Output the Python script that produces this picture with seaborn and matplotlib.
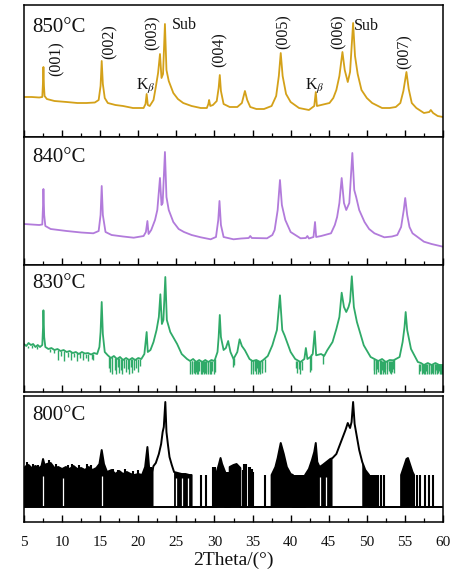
import numpy as np
import pandas as pd
import matplotlib
matplotlib.use("Agg")
import matplotlib.pyplot as plt
import seaborn as sns
from matplotlib.ticker import MultipleLocator

# ---------------- data (2Theta in degrees, intensity in arbitrary units) ----------------
x850 = [5.0, 6.0, 7.0, 7.4, 7.5, 7.55, 7.62, 7.7, 8.0, 9.0, 10.6, 12.0, 13.2, 14.3, 14.8, 15.05, 15.2, 15.35,
        15.6, 16.0, 17.0, 18.0, 19.3, 20.7, 20.95, 21.1, 21.25, 21.5, 22.0, 22.3, 22.6, 22.85, 23.05, 23.25,
        23.5, 23.7, 24.0, 24.6, 25.2, 25.9, 27.0, 28.2, 29.0, 29.2, 29.3, 29.45, 29.8, 30.3, 30.55, 30.7,
        30.85, 31.2, 32.0, 33.0, 33.6, 34.0, 34.3, 34.7, 35.5, 36.5, 37.5, 38.1, 38.45, 38.7, 38.95, 39.4,
        40.0, 41.1, 42.4, 43.1, 43.3, 43.45, 44.0, 45.1, 45.6, 46.0, 46.4, 46.8, 47.1, 47.5, 47.8, 48.2,
        48.45, 48.8, 49.3, 50.0, 50.7, 52.0, 53.0, 53.8, 54.4, 54.8, 55.2, 55.5, 55.9, 56.5, 57.5, 58.2,
        58.4, 58.7, 59.3, 60.0]
y850 = [39, 39, 38.5, 39, 55, 69, 50, 40, 37, 35, 34, 33, 33, 33.5, 36, 50, 75, 52,
        38, 33, 31, 30, 28, 28, 32, 42, 31, 30, 36, 49, 63, 82, 58, 62,
        112, 66, 55, 43, 37, 33, 30, 28, 28, 32, 36, 30, 31, 35, 48, 61,
        45, 32, 29, 29, 33, 45, 36, 29, 27, 27, 30, 40, 60, 83, 60, 42,
        34, 28, 26, 30, 44, 30, 31, 33, 38, 46, 60, 84, 66, 54, 64, 113,
        80, 62, 46, 38, 33, 28, 28, 29, 33, 45, 64, 47, 33, 28, 23, 24,
        26, 23, 20, 19]

x840 = [5.0, 7.0, 7.4, 7.5, 7.55, 7.65, 7.8, 8.5, 10.6, 12.5, 14.1, 14.8, 15.05, 15.2, 15.35, 15.7, 16.5,
        18.0, 19.4, 20.7, 21.0, 21.2, 21.35, 21.7, 22.2, 22.5, 22.85, 23.05, 23.2, 23.5, 23.7, 24.0, 24.6,
        25.3, 26.0, 27.0, 28.2, 29.5, 30.2, 30.5, 30.66, 30.85, 31.2, 32.5, 33.5, 34.5, 34.7, 34.9, 36.9,
        37.6, 37.9, 38.3, 38.6, 38.85, 39.3, 40.0, 41.3, 42.0, 42.2, 42.4, 43.0, 43.2, 43.35, 44.0, 45.3,
        45.8, 46.1, 46.4, 46.7, 47.0, 47.3, 47.7, 48.1, 48.35, 48.6, 49.0, 49.7, 50.3, 51.0, 52.3, 53.3,
        54.0, 54.5, 54.85, 55.04, 55.3, 55.6, 56.0, 57.5, 58.5, 60.0]
y840 = [41, 40, 40.5, 60, 76, 50, 39, 36, 34, 32.5, 31.7, 34, 50, 79, 50, 33, 30,
        28.5, 27.3, 29, 33, 44, 31, 35, 45, 55, 87, 60, 62, 113, 68, 55, 43,
        36, 33, 30, 27.7, 25.7, 28, 45, 64, 40, 28, 25.7, 26.5, 27, 29, 27, 26.7,
        30, 35, 55, 85, 60, 45, 33, 26.7, 27, 29, 26.5, 28, 43, 28, 29, 31.7,
        40, 48, 62, 87, 62, 55, 62, 112, 75, 68, 55, 43, 36, 31.7, 27.7, 28.5,
        30, 38, 55, 67, 50, 38, 31.7, 23.3, 21, 18.3]

x830 = [5.0, 5.3, 5.6, 5.9, 6.2, 6.5, 6.8, 7.1, 7.4, 7.5, 7.55, 7.65, 7.8, 8.2, 8.6, 9.0, 9.4, 9.8, 10.2,
        10.6, 11.0, 11.4, 11.8, 12.2, 12.6, 13.0, 13.4, 13.8, 14.2, 14.6, 14.9, 15.05, 15.2, 15.35, 15.6,
        16.0, 16.4, 16.8, 17.2, 17.6, 18.0, 18.4, 18.8, 19.2, 19.6, 20.0, 20.4, 20.8, 21.1, 21.25, 21.6,
        22.0, 22.4, 22.7, 22.9, 23.1, 23.3, 23.55, 23.75, 24.2, 25.1, 25.7, 26.4, 26.8, 27.2, 27.6, 28.0,
        28.4, 28.8, 29.2, 29.6, 30.0, 30.4, 30.55, 30.7, 30.85, 31.2, 31.5, 31.8, 32.1, 32.5, 33.0, 33.3,
        33.6, 34.0, 34.6, 35.0, 35.5, 36.0, 36.4, 37.0, 37.6, 38.2, 38.6, 38.9, 39.2, 40.0, 40.6, 41.3,
        41.8, 42.0, 42.2, 42.6, 42.9, 43.16, 43.35, 44.0, 44.4, 44.8, 45.5, 46.0, 46.4, 46.7, 47.0, 47.3,
        47.6, 47.8, 48.03, 48.3, 48.7, 49.6, 50.5, 51.0, 51.5, 52.0, 52.5, 53.0, 53.5, 54.3, 54.7, 54.95,
        55.1, 55.3, 55.8, 56.7, 57.1, 57.5, 58.0, 58.5, 59.0, 59.5, 60.0]
y830 = [48, 46, 49, 47, 48, 45, 47, 45, 47, 65, 81.7, 55, 45, 43, 44, 42, 43, 41, 42,
        40, 41, 39, 40, 38, 40, 38.5, 39, 37.5, 39, 38, 45, 60, 90, 58, 40,
        36.7, 34, 36, 33, 35, 32, 34, 32, 34, 32, 34, 33, 38, 60, 40, 42,
        50, 62, 75, 97.7, 68, 72, 115, 72, 60, 48, 38, 33, 31, 33, 30, 32,
        30, 32, 30, 32, 31, 40, 55, 77, 55, 42, 44, 51, 40, 33, 40, 52.7,
        46, 41.7, 33, 31, 32, 30, 32, 36, 46.7, 62, 96.7, 62, 56.7, 40, 33, 30,
        33, 44, 33, 35, 38, 60.7, 36.7, 38, 36, 41.7, 50, 63, 75, 99.3, 85, 80,
        85, 90.7, 115.7, 85, 70, 46.7, 35, 33, 31, 33, 30, 32, 31.7, 35, 50, 65,
        80, 62, 43, 30, 29, 27, 29, 27, 29, 27, 27]
# downward noise spikes of the 830 trace: position, lower and upper level
dip830_x = [5.5, 6.1, 6.7, 8.4, 8.9, 9.5, 9.9, 10.3, 10.8, 11.2, 11.6, 12.0, 12.4, 12.7, 13.1, 13.4, 13.9, 14.1,
            16.2, 16.3, 16.6, 16.9, 17.1, 17.3, 17.5, 17.7, 17.9, 18.1, 18.4, 18.6, 18.8, 19.0, 19.2, 19.5,
            19.7, 19.9, 20.2,
            26.8, 27.0, 27.1, 27.3, 27.4, 27.6, 27.7, 27.9, 28.0, 28.2, 28.4, 28.5, 28.6, 28.8, 28.9, 29.1,
            29.2, 29.4, 29.6, 29.7, 29.9, 30.1, 32.4, 32.6,
            34.8, 35.0, 35.1, 35.3, 35.4, 35.6, 35.7, 35.9, 36.0, 36.2, 36.3, 36.6,
            40.7, 40.9, 41.1, 41.2, 41.5, 42.5, 42.7, 44.2,
            50.9, 51.0, 51.2, 51.4, 51.5, 51.7, 51.8, 52.0, 52.1, 52.3, 52.4, 52.6, 52.7, 52.9, 53.0, 53.2,
            53.3, 53.5, 53.6,
            56.9, 57.0, 57.2, 57.3, 57.4, 57.5, 57.7, 57.8, 57.9, 58.1, 58.2, 58.4, 58.5, 58.6, 58.7, 58.9,
            59.0, 59.1, 59.2, 59.4, 59.5, 59.6, 59.7, 59.9]
dip830_lo = [44, 44, 43, 40, 39, 32, 36, 31, 35, 32, 35, 31, 34, 32, 34, 31, 33, 32,
             24, 20, 18, 22, 18, 25, 19, 22, 18, 24, 20, 23, 18, 25, 19, 22,
             24, 20, 26,
             18, 20, 18, 19, 18, 20, 18, 18, 21, 18, 18, 20, 18, 19, 18, 18,
             20, 18, 18, 21, 18, 20, 25, 27,
             18, 22, 18, 21, 18, 24, 18, 20, 18, 23, 19, 20,
             24, 19, 23, 18, 22, 20, 22, 28,
             18, 22, 18, 23, 20, 18, 18, 22, 18, 20, 18, 23, 18, 21, 19, 18,
             20, 23, 19,
             18, 21, 18, 22, 19, 18, 18, 21, 18, 19, 18, 18, 22, 19, 18, 20,
             18, 22, 18, 19, 21, 18, 18, 18]
dip830_hi = [46, 47, 46, 43, 43, 42, 41, 41, 40, 40, 39.5, 39, 39, 39, 38.5, 38.5, 38, 38,
             35, 35, 35, 34, 34, 34, 34, 33, 33, 33, 33, 33, 33, 33, 33, 33,
             33, 33, 33,
             31, 31, 31, 31, 31, 31, 31, 31, 31, 31, 31, 31, 31, 31, 31, 31,
             31, 31, 31, 31, 31, 33, 34, 34,
             32, 32, 32, 32, 32, 32, 31, 31, 31, 31, 32, 33,
             31, 31, 31, 31, 31, 36, 38, 38,
             33, 33, 32, 32, 32, 32, 32, 31, 31, 31, 31, 31, 31, 31, 31, 31,
             31, 32, 33,
             28, 28, 28, 28, 28, 28, 28, 28, 28, 28, 28, 28, 28, 28, 28, 28,
             28, 28, 28, 28, 28, 28, 27, 27]

floor800 = 15
x800 = [5.0, 5.3, 5.6, 6.0, 6.5, 7.0, 7.3, 7.5, 7.7, 8.0, 8.5, 9.0, 9.5, 10.0, 10.5, 11.0, 11.5, 12.0,
        12.5, 13.0, 13.5, 14.0, 14.5, 14.9, 15.2, 15.5, 15.9, 16.5, 17.0, 17.5, 18.0, 18.5, 19.0, 19.5,
        20.0, 20.5, 20.9, 21.2, 21.45, 21.8, 22.0,
        22.3, 22.7, 23.0, 23.2, 23.35, 23.55, 23.7, 23.9, 24.1, 24.4,
        24.7, 25.2, 25.7, 26.2, 26.7, 27.0, 27.0, 30.3,
        30.3, 30.6, 30.8, 31.0, 31.4, 31.4, 32.0,
        32.0, 32.5, 32.9, 33.4, 33.4, 37.5,
        37.5, 38.0, 38.3, 38.7, 39.1, 39.5, 40.0, 40.3, 40.3, 41.9,
        41.9, 42.4, 42.8, 43.1, 43.3, 43.5, 43.8, 44.2, 44.7, 45.2, 45.5,
        46.0, 46.6, 47.2, 47.5, 47.8, 48.0, 48.2, 48.4, 48.7, 49.0,
        49.4, 49.8, 50.3, 50.3, 54.5,
        54.5, 54.9, 55.2, 55.4, 55.7, 56.0, 56.2, 56.2, 60.0]
y800 = [54, 56, 57, 54, 56, 54, 56, 63, 57, 58, 59, 54, 55, 53, 55, 53, 56, 53,
        54, 52, 55, 52, 54, 58, 72, 58, 50, 52, 48, 51, 48, 50, 48, 47,
        48, 47, 55, 75, 52, 50, 56,
        59, 68, 78, 90, 95, 120, 90, 77, 65, 57,
        50, 49, 48, 48, 47, 47, 15, 15,
        50, 58, 64, 58, 50, 15, 15,
        55, 57, 58, 54, 15, 15,
        47, 55, 64, 79, 68, 55, 48, 47, 15, 15,
        47, 53, 62, 70, 79, 60, 55, 57, 60, 63, 64,
        68, 80, 92, 99, 94, 100, 120, 98, 85, 72,
        60, 52, 47, 15, 15,
        47, 56, 63, 64, 57, 50, 47, 15, 15]
fill800 = [True] * 41 + [False] * 10 + [True] * 6 + [False] * 2 + [True] * 5 + [False] * 2 + \
          [True] * 4 + [False] * 2 + [True] * 8 + [False] * 2 + [True] * 11 + [False] * 10 + \
          [True] * 3 + [False] * 2 + [True] * 7 + [False] * 2
spike800_x = [5.4, 6.2, 6.9, 8.3, 9.2, 10.8, 11.3, 12.2, 13.3, 13.8, 16.7, 17.3, 18.3, 19.3, 19.9, 21.7,
              28.2, 28.9, 29.8, 30.1, 31.6, 31.8, 33.7, 33.9, 34.1, 34.5, 34.7, 34.9, 35.1, 36.7,
              40.5, 40.7, 40.9, 41.1, 41.3, 41.5, 41.7, 50.5, 50.7, 50.9, 51.2, 51.5, 51.8, 52.3,
              56.6, 57.0, 57.7, 58.1, 58.7]
spike800_h = [60, 58, 57, 62, 58, 57, 58, 57, 58, 57, 53, 52, 53, 51, 52, 55,
              47, 47, 55, 55, 50, 50, 52, 58, 58, 55, 55, 53, 50, 47,
              47, 47, 47, 47, 47, 47, 47, 47, 47, 47, 47, 47, 47, 47,
              47, 47, 47, 47, 47]
gap800_x = [7.5, 10.1, 15.3, 25.0, 25.8, 26.5, 43.8, 44.6]
gap800_top = [46, 44, 46, 44, 44, 44, 45, 45]

temps = ["850°C", "840°C", "830°C", "800°C"]
temp_base = [27, 25, 23, 24]
colors = ["#D4A119", "#B27BDB", "#2FAA68", "#000000"]

# peak labels of the top panel
peak_labels = ["(001)", "(002)", "(003)", "(004)", "(005)", "(006)", "(007)"]
peak_lab_x = [9.3, 16.3, 21.9, 30.7, 39.1, 46.3, 55.0]
peak_lab_y = [77.5, 94, 103, 86.5, 104, 104, 84]
side_labels = ["Sub", "Sub", r"K$_{\beta}$", r"K$_{\beta}$"]
side_lab_x = [24.45, 48.35, 19.74, 41.84]
side_lab_y = [111, 110, 46, 46]

# ---------------- style ----------------
sns.set_theme(style="white")
plt.rcParams["font.family"] = ["Liberation Serif", "DejaVu Serif"]
plt.rcParams["mathtext.fontset"] = "stix"

W, Hf = 459.0, 576.0
fig = plt.figure(figsize=(4.59, 5.76), dpi=100)
fig.patch.set_facecolor("white")

panels = [(5, 137, (-1, 131)), (137, 265, (0, 128)), (265, 392, (0, 127)), (396, 522, (0, 126))]
axes = []
for top, bot, yl in panels:
    ax = fig.add_axes([24 / W, 1 - bot / Hf, (443 - 24) / W, (bot - top) / Hf])
    ax.set_xlim(5, 60)
    ax.set_ylim(*yl)
    ax.set_facecolor("white")
    for s in ax.spines.values():
        s.set_color("black")
        s.set_linewidth(1.1)
        s.set_visible(True)
    ax.xaxis.set_major_locator(MultipleLocator(5))
    ax.xaxis.set_minor_locator(MultipleLocator(2.5))
    ax.tick_params(axis="x", which="major", direction="in", length=5, width=1.0, bottom=True,
                   top=False, color="black", labelbottom=False)
    ax.tick_params(axis="x", which="minor", direction="in", length=3, width=0.9, bottom=True, top=False,
                   color="black")
    ax.tick_params(axis="y", left=False, right=False, labelleft=False)
    axes.append(ax)

series = [(x850, y850), (x840, y840), (x830, y830)]
for i, (xs, ys) in enumerate(series):
    df = pd.DataFrame({"x": xs, "y": ys})
    sns.lineplot(data=df, x="x", y="y", ax=axes[i], color=colors[i], linewidth=1.3,
                 estimator=None, sort=False)

# 830 noise dips
axes[2].vlines(dip830_x, dip830_lo, dip830_hi, color=colors[2], linewidth=1.0)

# 800 trace
ax4 = axes[3]
x8 = np.array(x800)
y8 = np.array(y800)
ax4.fill_between(x8, floor800, y8, where=np.array(fill800), color="black", linewidth=0,
                 interpolate=False)
ax4.vlines(gap800_x, floor800 + 1.5, gap800_top, color="white", linewidth=0.9)
ax4.vlines(spike800_x, floor800, spike800_h, color="black", linewidth=1.5)
ax4.axhline(floor800, color="black", linewidth=1.4)
sns.lineplot(x=x800, y=y800, ax=ax4, color="black", linewidth=1.4, estimator=None, sort=False)

for ax in axes:
    ax.set_xlabel("")
    ax.set_ylabel("")

# temperature labels
for ax, t, b, (top, bot, yl) in zip(axes, temps, temp_base, panels):
    h = bot - top
    ax.text(8 / 419, 1 - b / h, t, transform=ax.transAxes, ha="left", va="baseline",
            fontsize=15, color="#111111")

# peak annotations
for s, xv, yv in zip(peak_labels, peak_lab_x, peak_lab_y):
    axes[0].text(xv, yv, s, rotation=90, ha="center", va="center", fontsize=11.5, color="#111111")
for k, (s, xv, yv) in enumerate(zip(side_labels, side_lab_x, side_lab_y)):
    va = "center" if k < 2 else "baseline"
    axes[0].text(xv, yv, s, ha="left", va=va, fontsize=11.5, color="#111111")

# bottom axis labels
ax4.tick_params(axis="x", which="major", labelbottom=True, labelsize=11, pad=10, labelcolor="#111111")
ax4.set_xlabel("2Theta/(°)", fontsize=14, color="#111111", visible=True)
ax4.xaxis.label.set_visible(True)
ax4.xaxis.set_label_coords(0.5, -30 / 126)
ax4.xaxis.label.set_va("top")

fig.savefig("out.png", dpi=100, facecolor="white")
